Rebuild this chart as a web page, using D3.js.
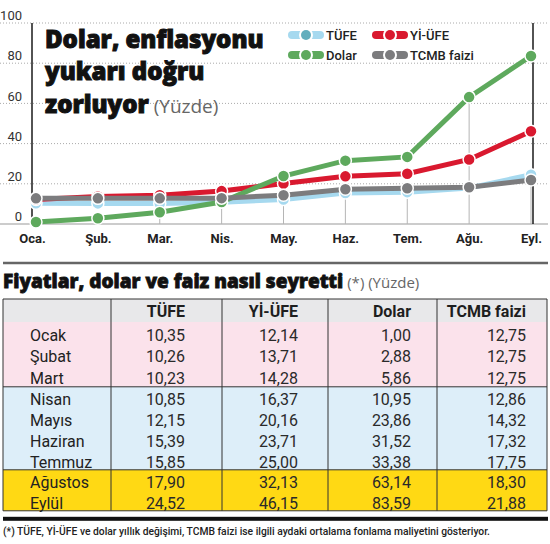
<!DOCTYPE html>
<html>
<head>
<meta charset="utf-8">
<script src="https://cdn.jsdelivr.net/npm/d3@7"></script>
<style>
  body { margin: 0; background: #fff; }
  svg { display: block; }
</style>
</head>
<body>
<div id="grafik"></div>
<script>
// veriler
const months = ["Ocak", "Şubat", "Mart", "Nisan", "Mayıs", "Haziran", "Temmuz", "Ağustos", "Eylül"];
const monthTicks = ["Oca.", "Şub.", "Mar.", "Nis.", "May.", "Haz.", "Tem.", "Ağu.", "Eyl."];
const seriesNames = ["TÜFE", "Yİ-ÜFE", "Dolar", "TCMB faizi"];
const tufe = [10.35, 10.26, 10.23, 10.85, 12.15, 15.39, 15.85, 17.90, 24.52];
const yiufe = [12.14, 13.71, 14.28, 16.37, 20.16, 23.71, 25.00, 32.13, 46.15];
const dolar = [1.00, 2.88, 5.86, 10.95, 23.86, 31.52, 33.38, 63.14, 83.59];
const tcmb = [12.75, 12.75, 12.75, 12.86, 14.32, 17.32, 17.75, 18.30, 21.88];
const yTicks = [0, 20, 40, 60, 80, 100];
const rowGroups = [3, 4, 2]; // pembe, mavi, sarı

let config = {
  width: 550,
  height: 544,
  left: 36,
  right: 531,
  top: 23,
  bottom: 224,
  colors: ["#a6d9ef", "#d9192f", "#5ea95d", "#7c7c7e"],
  dotColors: ["#63aebd", "#d9192f", "#5ea95d", "#7c7c7e"],
  bandColors: ["#fbe2eb", "#ddeef9", "#ffd914"],
  font: "Roboto, 'Noto Sans', sans-serif",
  heavy: "'Open Sans', sans-serif"
};

const trLocale = d3.formatLocale({ decimal: ",", thousands: ".", grouping: [3], currency: ["", ""] });
const fmt = trLocale.format(".2f");

const series = [tufe, yiufe, dolar, tcmb].map((values, i) => ({
  name: seriesNames[i],
  values: values.map((v, j) => ({ month: monthTicks[j], value: v }))
}));

const svg = d3.select("#grafik")
  .append("svg")
  .attr("width", config.width)
  .attr("height", config.height)
  .style("font-family", config.font);

// ---------- grafik ----------
const xScale = d3.scalePoint()
  .domain(monthTicks)
  .range([config.left, config.right]);

const yScale = d3.scaleLinear()
  .domain([0, 100])
  .range([config.bottom, config.top]);

// y etiketleri
const yAxis = svg.append("g")
  .call(d3.axisLeft(yScale).tickValues(yTicks).tickSize(0).tickFormat(d => d))
  .attr("transform", "translate(22,0)");
yAxis.select(".domain").remove();
yAxis.selectAll("text")
  .attr("x", 0)
  .attr("dy", "-0.25em")
  .attr("fill", "#333")
  .style("font-size", "13px")
  .style("font-family", config.font);

// yatay noktalı çizgiler
svg.append("g").selectAll("line")
  .data(yTicks)
  .join("line")
  .attr("x1", 0)
  .attr("x2", 548)
  .attr("y1", d => yScale(d))
  .attr("y2", d => yScale(d))
  .attr("stroke", d => d === 0 ? "#999" : "#aaa")
  .attr("stroke-width", 1)
  .attr("stroke-dasharray", d => d === 0 ? null : "1,2");

// ay çizgileri
svg.append("g").selectAll("line")
  .data(monthTicks)
  .join("line")
  .attr("x1", d => xScale(d))
  .attr("x2", d => xScale(d))
  .attr("y1", yScale(0))
  .attr("y2", (d, i) => {
    let vals = series.map(s => s.values[i].value);
    return yScale(d === "Ağu." ? d3.max(vals) : d3.min(vals));
  })
  .attr("stroke", "#b5b5b5")
  .attr("stroke-width", 1);

// siyah kenar çizgileri
svg.append("g").selectAll("line")
  .data([xScale(monthTicks[0]) - 4, xScale(monthTicks[monthTicks.length - 1]) + 2])
  .join("line")
  .attr("x1", d => d)
  .attr("x2", d => d)
  .attr("y1", yScale(100))
  .attr("y2", yScale(0))
  .attr("stroke", "#1a1a1a")
  .attr("stroke-width", 1.5);

// x ekseni etiketleri
const xAxis = svg.append("g")
  .attr("transform", `translate(0,${config.bottom})`)
  .call(d3.axisBottom(xScale).tickSize(0).tickPadding(10));
xAxis.select(".domain").remove();
xAxis.selectAll("text")
  .attr("dx", (d, i) => i === 0 ? -4 : 0)
  .attr("fill", "#222")
  .style("font-size", "13px")
  .style("font-weight", 700)
  .style("font-family", config.font);

// başlık
const title = svg.append("text")
  .attr("x", 45)
  .attr("y", 48)
  .attr("fill", "#111")
  .attr("stroke", "#111")
  .attr("stroke-width", 1)
  .style("font-family", config.heavy)
  .style("font-weight", 800)
  .style("font-size", "24px");
title.append("tspan").attr("x", 45).attr("y", 48).text("Dolar, enflasyonu");
title.append("tspan").attr("x", 45).attr("y", 80).text("yukarı doğru");
title.append("tspan").attr("x", 45).attr("y", 113).text("zorluyor");
title.append("tspan")
  .text(" (Yüzde)")
  .attr("fill", "#666")
  .attr("stroke", "none")
  .style("font-weight", 400)
  .style("font-size", "19px");

// çizgiler ve noktalar
const line = d3.line()
  .x(d => xScale(d.month))
  .y(d => yScale(d.value));

series.forEach((s, i) => {
  let g = svg.append("g");
  g.append("path")
    .datum(s.values)
    .attr("d", line)
    .attr("fill", "none")
    .attr("stroke", config.colors[i])
    .attr("stroke-width", 5);
  g.selectAll("circle")
    .data(s.values)
    .join("circle")
    .attr("cx", d => xScale(d.month))
    .attr("cy", d => yScale(d.value))
    .attr("r", 6)
    .attr("fill", config.colors[i])
    .attr("stroke", "#fff")
    .attr("stroke-width", 1.5);
});

// lejant
const legend = svg.append("g");
series.forEach((s, i) => {
  let cx = i % 2 === 0 ? 306 : 390;
  let cy = i < 2 ? 35 : 55;
  let item = legend.append("g").attr("transform", `translate(${cx},${cy})`);
  item.append("line")
    .attr("x1", -14).attr("x2", 14)
    .attr("stroke", config.colors[i])
    .attr("stroke-width", 8)
    .attr("stroke-linecap", "round");
  item.append("circle").attr("r", 7).attr("fill", "#fff");
  item.append("circle").attr("r", 5).attr("fill", config.dotColors[i]);
  item.append("text")
    .attr("x", 20)
    .attr("dy", "0.36em")
    .attr("fill", "#222")
    .style("font-size", "13px")
    .style("font-weight", 500)
    .text(s.name);
});

// ---------- tablo ----------
svg.append("line")
  .attr("x1", 3).attr("x2", 548)
  .attr("y1", 263).attr("y2", 263)
  .attr("stroke", "#666")
  .attr("stroke-width", 2.5);

const tTitle = svg.append("text")
  .attr("x", 3)
  .attr("y", 288)
  .attr("fill", "#111")
  .attr("stroke", "#111")
  .attr("stroke-width", 0.8)
  .style("font-family", config.heavy)
  .style("font-weight", 800)
  .style("font-size", "19px")
  .text("Fiyatlar, dolar ve faiz nasıl seyretti");
tTitle.append("tspan")
  .text(" (*) (Yüzde)")
  .attr("fill", "#666")
  .attr("stroke", "none")
  .style("font-weight", 400)
  .style("font-size", "15px");

const colEdges = [3, 111, 222, 328, 437, 547];
const colTextX = [185, 298, 411, 526];
const headTop = 299, headBottom = 322;
const bandRowH = [21.6, 20.75, 20.5];

// satır konumları
let rows = [];
let bands = [];
let yPos = headBottom;
rowGroups.forEach((n, g) => {
  let start = yPos;
  for (let k = 0; k < n; k++) {
    rows.push({ top: yPos, group: g });
    yPos += bandRowH[g];
  }
  bands.push({ y0: start, y1: yPos, group: g });
});
const tableBottom = yPos;

const table = svg.append("g");
table.append("rect")
  .attr("x", colEdges[0]).attr("y", headTop)
  .attr("width", colEdges[5] - colEdges[0]).attr("height", headBottom - headTop)
  .attr("fill", "#e8e8ea");
table.selectAll("rect.band")
  .data(bands)
  .join("rect")
  .attr("class", "band")
  .attr("x", colEdges[0])
  .attr("y", d => d.y0)
  .attr("width", colEdges[5] - colEdges[0])
  .attr("height", d => d.y1 - d.y0)
  .attr("fill", d => config.bandColors[d.group]);

// grup çizgileri
table.selectAll("line.hl")
  .data([headTop, bands[1].y0, bands[2].y0, tableBottom])
  .join("line")
  .attr("class", "hl")
  .attr("x1", colEdges[0]).attr("x2", colEdges[5])
  .attr("y1", d => d).attr("y2", d => d)
  .attr("stroke", "#333")
  .attr("stroke-width", 1);
table.selectAll("line.vl")
  .data(colEdges)
  .join("line")
  .attr("class", "vl")
  .attr("x1", d => d).attr("x2", d => d)
  .attr("y1", headTop).attr("y2", tableBottom)
  .attr("stroke", "#333")
  .attr("stroke-width", 1);

// başlık satırı
table.selectAll("text.head")
  .data(seriesNames)
  .join("text")
  .attr("class", "head")
  .attr("x", (d, i) => colTextX[i])
  .attr("y", 317)
  .attr("text-anchor", "end")
  .attr("fill", "#1e1e1e")
  .style("font-size", "16px")
  .style("font-weight", 700)
  .text(d => d);

// veri satırları
const cols = [tufe, yiufe, dolar, tcmb];
rows.forEach((r, i) => {
  let base = r.top + 18.5;
  table.append("text")
    .attr("x", 30)
    .attr("y", base)
    .attr("fill", "#222")
    .style("font-size", "16px")
    .text(months[i]);
  cols.forEach((c, j) => {
    table.append("text")
      .attr("x", colTextX[j])
      .attr("y", base)
      .attr("text-anchor", "end")
      .attr("fill", "#2a2a2a")
      .style("font-size", "16px")
      .text(fmt(c[i]));
  });
});

svg.append("rect")
  .attr("x", 3).attr("y", tableBottom + 6)
  .attr("width", 545).attr("height", 4)
  .attr("fill", "#111");

svg.append("text")
  .attr("x", 3)
  .attr("y", 535)
  .attr("fill", "#222")
  .style("font-size", "10.3px")
  .style("font-weight", 500)
  .text("(*) TÜFE, Yİ-ÜFE ve dolar yıllık değişimi, TCMB faizi ise ilgili aydaki ortalama fonlama maliyetini gösteriyor.");
</script>
</body>
</html>
